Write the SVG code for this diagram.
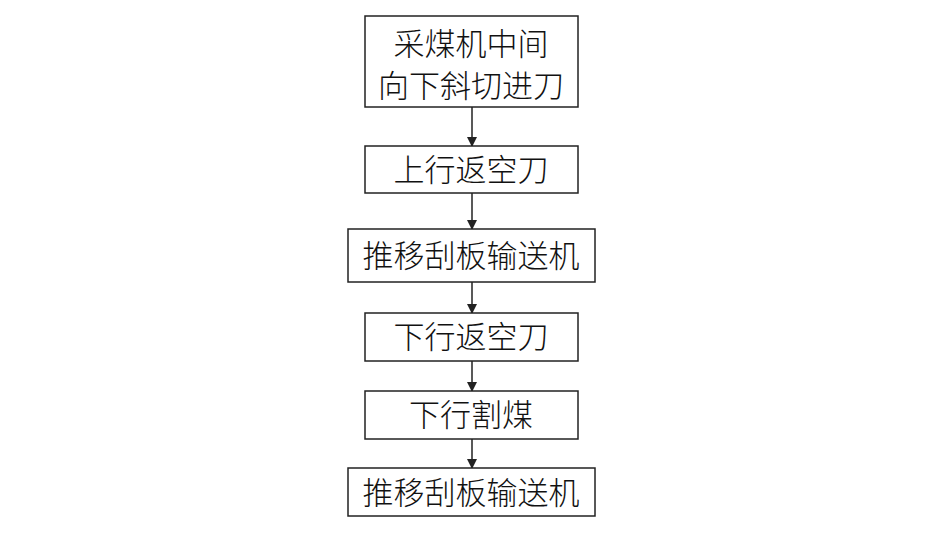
<svg xmlns="http://www.w3.org/2000/svg" width="945" height="544" viewBox="0 0 945 544">
<style>
.b{fill:#fff;stroke:#222;stroke-width:1.5}
text{font-family:"Noto Sans CJK SC","Liberation Serif",serif;font-size:31px;font-weight:300;fill:#111;text-anchor:middle}
line{stroke:#222;stroke-width:1.5}
</style>
<defs><marker id="a" markerWidth="10" markerHeight="10" refX="9" refY="5" orient="auto" markerUnits="userSpaceOnUse"><path d="M0,0L10,5L0,10z" fill="#222"/></marker></defs>
<rect width="945" height="544" fill="#fff"/>
<g id="connectors">
<line x1="472" y1="107" x2="472" y2="146" marker-end="url(#a)"/>
<line x1="472" y1="193" x2="472" y2="229" marker-end="url(#a)"/>
<line x1="472" y1="282" x2="472" y2="313" marker-end="url(#a)"/>
<line x1="472" y1="361" x2="472" y2="391" marker-end="url(#a)"/>
<line x1="472" y1="439" x2="472" y2="468" marker-end="url(#a)"/>
</g>
<g id="n1"><rect class="b" x="365" y="16" width="213" height="91"/><text x="471" y="55">采煤机中间</text><text x="471" y="97">向下斜切进刀</text></g>
<g id="n2"><rect class="b" x="365" y="146" width="213" height="47"/><text x="471" y="181">上行返空刀</text></g>
<g id="n3"><rect class="b" x="348" y="229" width="247" height="53"/><text x="471" y="267">推移刮板输送机</text></g>
<g id="n4"><rect class="b" x="365" y="313" width="213" height="48"/><text x="471" y="348">下行返空刀</text></g>
<g id="n5"><rect class="b" x="365" y="391" width="213" height="48"/><text x="471" y="426">下行割煤</text></g>
<g id="n6"><rect class="b" x="348" y="468" width="247" height="48"/><text x="471" y="504">推移刮板输送机</text></g>
</svg>
